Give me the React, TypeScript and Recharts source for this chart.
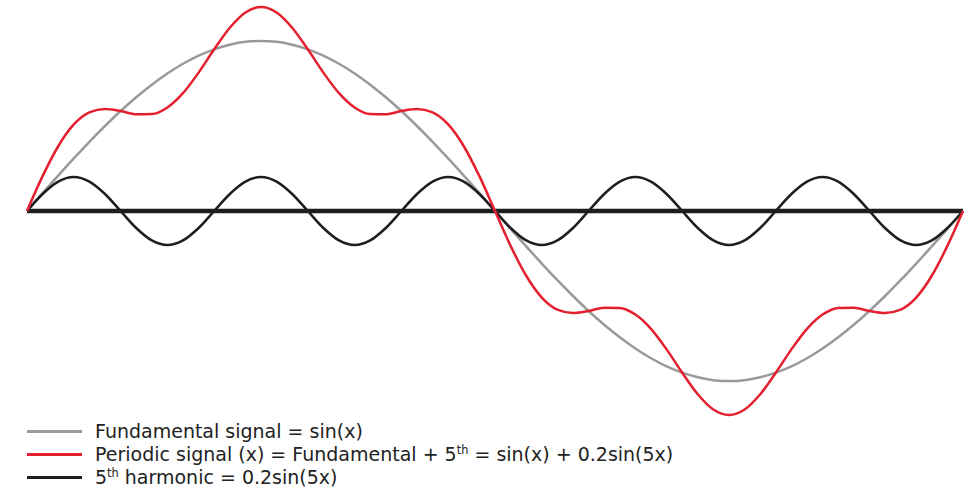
import React from 'react';
import { LineChart, Line, XAxis, YAxis, ReferenceLine } from 'recharts';

// x positions in degrees (0 .. 360, step 6)
const xDeg = [
  0, 6, 12, 18, 24, 30, 36, 42, 48, 54, 60, 66, 72, 78, 84, 90, 96, 102, 108, 114, 120,
  126, 132, 138, 144, 150, 156, 162, 168, 174, 180, 186, 192, 198, 204, 210, 216, 222,
  228, 234, 240, 246, 252, 258, 264, 270, 276, 282, 288, 294, 300, 306, 312, 318, 324,
  330, 336, 342, 348, 354, 360,
];

const fundamental = [
  0, 0.105, 0.208, 0.309, 0.407, 0.5, 0.588, 0.669, 0.743, 0.809, 0.866, 0.914, 0.951,
  0.978, 0.995, 1, 0.995, 0.978, 0.951, 0.914, 0.866, 0.809, 0.743, 0.669, 0.588, 0.5,
  0.407, 0.309, 0.208, 0.105, 0, -0.105, -0.208, -0.309, -0.407, -0.5, -0.588, -0.669,
  -0.743, -0.809, -0.866, -0.914, -0.951, -0.978, -0.995, -1, -0.995, -0.978, -0.951,
  -0.914, -0.866, -0.809, -0.743, -0.669, -0.588, -0.5, -0.407, -0.309, -0.208, -0.105, 0,
];

const harmonic = [
  0, 0.1, 0.173, 0.2, 0.173, 0.1, 0, -0.1, -0.173, -0.2, -0.173, -0.1, 0, 0.1, 0.173, 0.2,
  0.173, 0.1, 0, -0.1, -0.173, -0.2, -0.173, -0.1, 0, 0.1, 0.173, 0.2, 0.173, 0.1, 0,
  -0.1, -0.173, -0.2, -0.173, -0.1, 0, 0.1, 0.173, 0.2, 0.173, 0.1, 0, -0.1, -0.173, -0.2,
  -0.173, -0.1, 0, 0.1, 0.173, 0.2, 0.173, 0.1, 0, -0.1, -0.173, -0.2, -0.173, -0.1, 0,
];

const periodic = [
  0, 0.205, 0.381, 0.509, 0.58, 0.6, 0.588, 0.569, 0.57, 0.609, 0.693, 0.814, 0.951,
  1.078, 1.168, 1.2, 1.168, 1.078, 0.951, 0.814, 0.693, 0.609, 0.57, 0.569, 0.588, 0.6,
  0.58, 0.509, 0.381, 0.205, 0, -0.205, -0.381, -0.509, -0.58, -0.6, -0.588, -0.569,
  -0.57, -0.609, -0.693, -0.814, -0.951, -1.078, -1.168, -1.2, -1.168, -1.078, -0.951,
  -0.814, -0.693, -0.609, -0.57, -0.569, -0.588, -0.6, -0.58, -0.509, -0.381, -0.205, 0,
];

const data = xDeg.map((x, i) => ({
  x,
  fundamental: fundamental[i],
  harmonic: harmonic[i],
  periodic: periodic[i],
}));

const GRAY = '#9a9a9a';
const RED = '#e4202e';
const BLACK = '#1e1e1e';

const sup = { fontSize: '0.6em', verticalAlign: '0.6em', lineHeight: 0 } as const;

const legendRows = [
  { color: GRAY, label: <>Fundamental signal = sin(x)</> },
  {
    color: RED,
    label: (
      <>
        Periodic signal (x) = Fundamental + 5<span style={sup}>th</span> = sin(x) + 0.2sin(5x)
      </>
    ),
  },
  {
    color: BLACK,
    label: (
      <>
        5<span style={sup}>th</span> harmonic = 0.2sin(5x)
      </>
    ),
  },
];

const SignalLegend = () => (
  <div
    style={{
      position: 'absolute',
      left: 27,
      top: 420,
      fontFamily: '"DejaVu Sans", sans-serif',
      fontSize: 19,
      color: '#222',
      whiteSpace: 'nowrap',
    }}
  >
    {legendRows.map((row, i) => (
      <div key={i} style={{ display: 'flex', alignItems: 'center', height: 23 }}>
        <span
          style={{ display: 'inline-block', width: 55, height: 2.5, background: row.color, marginRight: 13 }}
        />
        <span style={{ lineHeight: '23px' }}>{row.label}</span>
      </div>
    ))}
  </div>
);

export default function App() {
  return (
    <div style={{ position: 'absolute', left: 0, top: 0, width: 972, height: 487, background: '#fff' }}>
      <LineChart width={972} height={487} data={data} margin={{ top: 7, right: 9, bottom: 72, left: 27 }}>
        <XAxis dataKey="x" type="number" domain={[0, 360]} hide />
        <YAxis type="number" domain={[-1.2, 1.2]} hide />
        <ReferenceLine y={0} stroke={BLACK} strokeWidth={4.5} />
        <Line
          dataKey="fundamental"
          type="monotone"
          stroke={GRAY}
          strokeWidth={2.5}
          dot={false}
          isAnimationActive={false}
        />
        <Line
          dataKey="harmonic"
          type="monotone"
          stroke={BLACK}
          strokeWidth={2.5}
          dot={false}
          isAnimationActive={false}
        />
        <Line
          dataKey="periodic"
          type="monotone"
          stroke={RED}
          strokeWidth={2.5}
          dot={false}
          isAnimationActive={false}
        />
      </LineChart>
      <SignalLegend />
    </div>
  );
}
